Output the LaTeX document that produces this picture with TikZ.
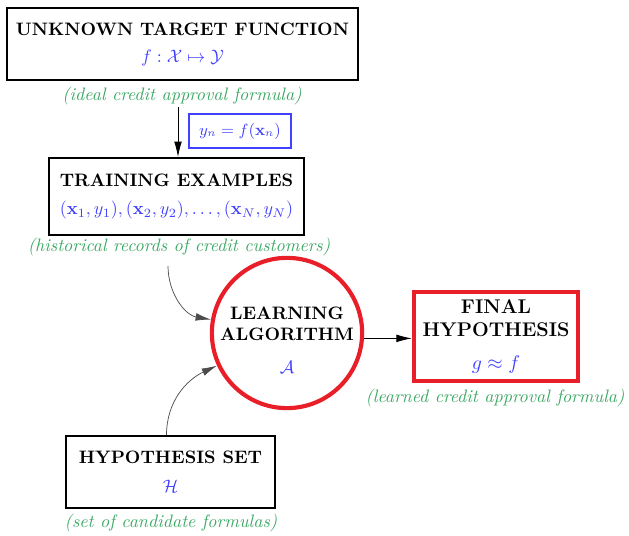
\documentclass[tikz,border=0pt]{standalone}
\usepackage{amsmath,amssymb}
\usepackage{tikz}
\usetikzlibrary{arrows.meta,calc}
\definecolor{mathblue}{RGB}{64,64,255}
\definecolor{notegreen}{RGB}{60,168,100}
\definecolor{boxred}{RGB}{232,30,40}

\begin{document}
\begin{tikzpicture}[x=0.0195cm,y=0.0195cm,
	box/.style={draw, line width=1.1pt, align=center, inner sep=0pt},
	redbox/.style={draw=boxred, line width=2.3pt, align=center, inner sep=0pt},
	note/.style={text=notegreen, font=\itshape},
	link/.style={-{Latex[length=3mm,width=1.5mm]}, line width=0.5pt},
	feed/.style={-{Latex[length=3mm,width=1.5mm]}, line width=0.4pt, black!70}]
			%%%%% START %%%%%
			
			\useasboundingbox (0,0) rectangle (629,-536);
			
			\node[box, minimum width=6.84cm, minimum height=1.40cm] (target) at (182.5,-44)
				{\bfseries UNKNOWN TARGET FUNCTION\\[3pt] \color{mathblue}$f:\mathcal{X}\mapsto\mathcal{Y}$};
			\node[note] (lblIdeal) at (182,-96) {(ideal credit approval formula)};
			
			\node[draw=mathblue, line width=0.9pt, minimum width=1.99cm, minimum height=0.66cm] (sample) at (240,-131)
				{\small\color{mathblue}$y_n=f(\mathbf{x}_n)$};
			
			\node[box, minimum width=4.97cm, minimum height=1.50cm] (train) at (176.5,-196.5)
				{\bfseries TRAINING EXAMPLES\\[4pt] \color{mathblue}$(\mathbf{x}_1,y_1),(\mathbf{x}_2,y_2),\ldots,(\mathbf{x}_N,y_N)$};
			\node[note] (lblHist) at (179,-247) {(historical records of credit customers)};
			
			\node[redbox, circle, minimum size=2.93cm] (alg) at (287,-333) {};
			\node[align=center] (algText) at (287,-340)
				{\bfseries LEARNING\\ \bfseries ALGORITHM\\[6pt] \color{mathblue}$\mathcal{A}$};
			
			\node[redbox, minimum width=3.20cm, minimum height=1.74cm, font=\fontsize{11}{12.5}\selectfont] (final) at (496,-336.5)
				{\bfseries FINAL\\ \bfseries HYPOTHESIS\\[6pt] \color{mathblue}$g\approx f$};
			\node[note] (lblLearned) at (495,-398) {(learned credit approval formula)};
			
			\node[box, minimum width=4.08cm, minimum height=1.40cm] (hyp) at (170.5,-472)
				{\bfseries HYPOTHESIS SET\\[4pt] \color{mathblue}$\mathcal{H}$};
			\node[note] (lblCand) at (171,-523) {(set of candidate formulas)};
			
			% connectors
			\coordinate (fromTarget) at (178,-107);
			\draw[link] (fromTarget) -- (fromTarget |- train.north);
			
			\coordinate (fromTrain) at (168,-266);
			\draw[feed] (fromTrain) to[out=-90,in=170] (alg.170);
			\draw[feed] ($(hyp.north)+(-4,0)$) to[out=90,in=205] (alg.205);
			
			\draw[link] (alg.-4) -- (alg.-4 -| final.west);
			
			%%%%% END %%%%%
\end{tikzpicture}
\end{document}
